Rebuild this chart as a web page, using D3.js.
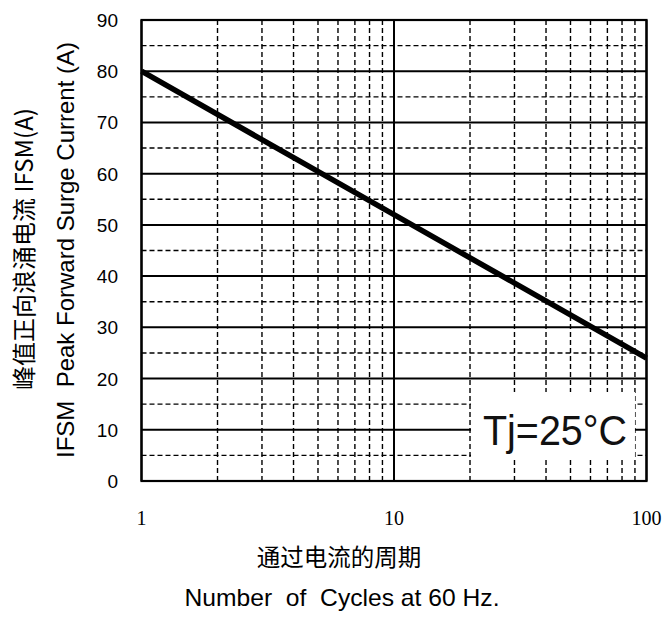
<!DOCTYPE html>
<html><head><meta charset="utf-8">
<script src="https://cdn.jsdelivr.net/npm/d3@7"></script>
<style>body{margin:0;background:#fff} text{white-space:pre}</style>
</head><body>
<svg id="c" width="665" height="617"></svg>
<script>
const cycles = [1, 10, 100];
const current = [80, 52, 24];
const yTicks = [0,10,20,30,40,50,60,70,80,90];
const xTicks = [1,10,100];
const yMinor = [5,15,25,35,45,55,65,75,85];
const xMinor = [2,3,4,5,6,7,8,9,20,30,40,50,60,70,80,90];

const svg = d3.select("#c");
const L=141.5, R=646.5, T=20, B=481;
const x = d3.scaleLog().domain([1,100]).range([L,R]);
const y = d3.scaleLinear().domain([0,90]).range([B,T]);
const g = svg.append("g");
const sans = "Liberation Sans, Arial, sans-serif";

g.selectAll(".ym").data(yMinor).enter().append("line")
 .attr("x1",L).attr("x2",R).attr("y1",d=>y(d)).attr("y2",d=>y(d))
 .attr("stroke","#000").attr("stroke-width",1.4).attr("stroke-dasharray","5,3");
g.selectAll(".xm").data(xMinor).enter().append("line")
 .attr("y1",T).attr("y2",B).attr("x1",d=>x(d)).attr("x2",d=>x(d))
 .attr("stroke","#000").attr("stroke-width",1.4).attr("stroke-dasharray","5,3");
g.selectAll(".yM").data(yTicks).enter().append("line")
 .attr("x1",L).attr("x2",R).attr("y1",d=>y(d)).attr("y2",d=>y(d))
 .attr("stroke","#000").attr("stroke-width",2);
g.selectAll(".xM").data(xTicks).enter().append("line")
 .attr("y1",T).attr("y2",B).attr("x1",d=>x(d)).attr("x2",d=>x(d))
 .attr("stroke","#000").attr("stroke-width",2);

// label box
g.append("rect").attr("x",x(20)+1).attr("y",392).attr("width",x(90)-x(20)-1).attr("height",65)
 .attr("fill","#fff");
g.append("text").attr("x",555).attr("y",445).attr("text-anchor","middle")
 .attr("font-family",sans).attr("font-size",42)
 .attr("textLength",144).attr("lengthAdjust","spacingAndGlyphs")
 .attr("fill","#111").text("Tj=25°C");

// outer frame
g.append("rect").attr("x",L).attr("y",T).attr("width",R-L).attr("height",B-T)
 .attr("fill","none").attr("stroke","#000").attr("stroke-width",2.2);

// curve
const data = cycles.map((c,i)=>({c, v: current[i]}));
g.append("path").datum(data)
 .attr("d", d3.line().x(d=>x(d.c)).y(d=>y(d.v)))
 .attr("fill","none").attr("stroke","#000").attr("stroke-width",5.5);

// y tick labels
g.selectAll(".yl").data(yTicks).enter().append("text")
 .attr("x",118).attr("y",d=>y(d)+7).attr("text-anchor","end")
 .attr("font-family",sans).attr("font-size",19)
 .text(d=>d);
// x tick labels
g.selectAll(".xl").data(xTicks).enter().append("text")
 .attr("x",d=>x(d)).attr("y",525).attr("text-anchor","middle")
 .attr("font-family","Liberation Serif, Times New Roman, serif").attr("font-size",20)
 .text(d=>d);

// axis titles
svg.append("text").attr("x",339).attr("y",566).attr("text-anchor","middle")
 .attr("font-family","Noto Sans CJK SC, sans-serif").attr("font-size",23.5)
 .text("通过电流的周期");
svg.append("text").attr("x",342).attr("y",606).attr("text-anchor","middle")
 .attr("font-family",sans).attr("font-size",24)
 .attr("textLength",315).attr("lengthAdjust","spacingAndGlyphs")
 .text("Number  of  Cycles at 60 Hz.");
svg.append("text").attr("transform","translate(33,249) rotate(-90)").attr("text-anchor","middle")
 .attr("font-family","Noto Sans CJK SC, sans-serif").attr("font-size",24)
 .text("峰值正向浪涌电流 IFSM(A)");
svg.append("text").attr("transform","translate(74,250) rotate(-90)").attr("text-anchor","middle")
 .attr("font-family",sans).attr("font-size",24)
 .attr("textLength",416).attr("lengthAdjust","spacingAndGlyphs")
 .text("IFSM  Peak Forward Surge Current (A)");
</script>
</body></html>
